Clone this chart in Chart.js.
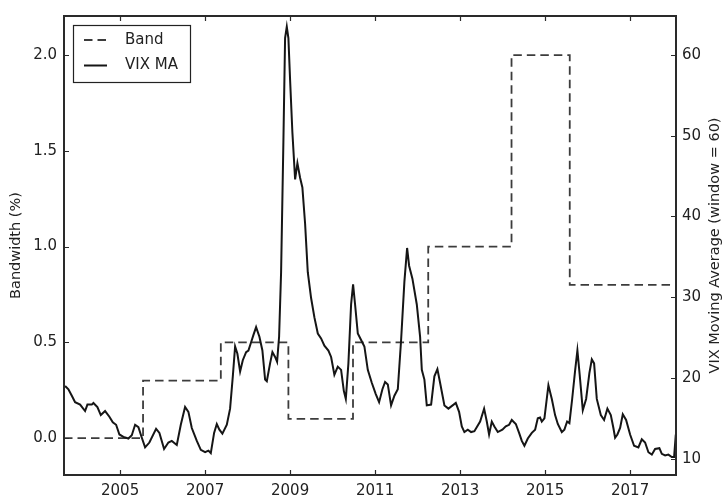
<!DOCTYPE html>
<html>
<head>
<meta charset="utf-8">
<title>Bandwidth vs VIX moving average</title>
<script src="https://cdn.jsdelivr.net/npm/chart.js@4.4.1/dist/chart.umd.min.js"></script>
<style>
  html, body { margin: 0; padding: 0; background: #fff; }
  canvas { display: block; }
</style>
</head>
<body>
<canvas id="chart" width="725" height="502"></canvas>
<script>
// Band level (left axis, %) – each value holds until the next change date
const bandYears  = [2003.68, 2005.54, 2007.37, 2008.96, 2010.48, 2012.25, 2014.21, 2015.58, 2018.09];
const bandValues = [0.0, 0.3, 0.5, 0.1, 0.5, 1.0, 2.0, 0.8, 0.8];

// VIX 60-day moving average (right axis)
const vixYears = [
  2003.706, 2003.784, 2003.864, 2003.941, 2004.059, 2004.176, 2004.231, 2004.334, 2004.372, 2004.466,
  2004.546, 2004.647, 2004.748, 2004.828, 2004.906, 2004.984, 2005.078, 2005.195, 2005.275, 2005.353,
  2005.431, 2005.511, 2005.588, 2005.689, 2005.847, 2005.925, 2006.035, 2006.136, 2006.216, 2006.334,
  2006.428, 2006.529, 2006.607, 2006.687, 2006.805, 2006.899, 2007.000, 2007.078, 2007.134, 2007.212,
  2007.275, 2007.336, 2007.407, 2007.511, 2007.588, 2007.652, 2007.706, 2007.760, 2007.824, 2007.887,
  2007.965, 2008.019, 2008.075, 2008.136, 2008.200, 2008.278, 2008.348, 2008.412, 2008.452, 2008.529,
  2008.584, 2008.647, 2008.694, 2008.741, 2008.788, 2008.842, 2008.882, 2008.922, 2008.960, 2009.000,
  2009.054, 2009.118, 2009.172, 2009.235, 2009.289, 2009.353, 2009.416, 2009.494, 2009.572, 2009.652,
  2009.729, 2009.807, 2009.901, 2009.965, 2010.042, 2010.122, 2010.200, 2010.264, 2010.311, 2010.372,
  2010.435, 2010.482, 2010.529, 2010.593, 2010.671, 2010.748, 2010.828, 2010.922, 2011.016, 2011.094,
  2011.172, 2011.235, 2011.299, 2011.376, 2011.454, 2011.534, 2011.612, 2011.689, 2011.753, 2011.800,
  2011.878, 2011.981, 2012.059, 2012.099, 2012.160, 2012.216, 2012.318, 2012.395, 2012.466, 2012.529,
  2012.631, 2012.725, 2012.899, 2012.976, 2013.040, 2013.101, 2013.181, 2013.259, 2013.336, 2013.471,
  2013.565, 2013.628, 2013.682, 2013.746, 2013.807, 2013.887, 2013.995, 2014.075, 2014.153, 2014.216,
  2014.311, 2014.388, 2014.452, 2014.513, 2014.593, 2014.687, 2014.765, 2014.828, 2014.882, 2014.922,
  2014.984, 2015.078, 2015.158, 2015.235, 2015.299, 2015.393, 2015.454, 2015.518, 2015.572, 2015.635,
  2015.706, 2015.760, 2015.812, 2015.887, 2015.965, 2016.042, 2016.099, 2016.153, 2016.216, 2016.311,
  2016.388, 2016.466, 2016.546, 2016.607, 2016.647, 2016.701, 2016.765, 2016.828, 2016.906, 2017.000,
  2017.094, 2017.195, 2017.275, 2017.353, 2017.431, 2017.511, 2017.588, 2017.689, 2017.746, 2017.824,
  2017.901, 2017.981, 2018.035, 2018.075
];
const vixValues = [
  19.0, 18.6, 17.8, 17.0, 16.7, 15.9, 16.7, 16.7, 16.9, 16.4,
  15.4, 15.9, 15.2, 14.5, 14.2, 13.0, 12.7, 12.5, 12.9, 14.2,
  13.9, 12.6, 11.4, 12.0, 13.7, 13.2, 11.2, 12.0, 12.2, 11.7,
  14.2, 16.4, 15.8, 13.8, 12.2, 11.1, 10.8, 11.0, 10.7, 13.2,
  14.3, 13.6, 13.1, 14.2, 16.2, 20.2, 23.9, 23.0, 20.8, 22.2,
  23.2, 23.4, 24.3, 25.3, 26.3, 25.1, 23.4, 19.8, 19.6, 21.8,
  23.2, 22.6, 22.0, 25.1, 33.1, 49.2, 62.1, 63.5, 62.1, 56.9,
  50.4, 44.6, 46.6, 44.8, 43.6, 39.1, 33.1, 29.9, 27.5, 25.5,
  24.9, 24.0, 23.4, 22.6, 20.4, 21.4, 21.0, 18.4, 17.4, 21.8,
  29.1, 31.6, 29.1, 25.5, 24.7, 23.9, 21.0, 19.4, 18.0, 17.0,
  18.6, 19.5, 19.2, 16.6, 17.8, 18.6, 24.7, 31.9, 36.1, 33.9,
  32.3, 29.1, 25.1, 21.0, 19.8, 16.6, 16.7, 20.2, 21.1, 19.4,
  16.6, 16.2, 16.9, 15.8, 14.0, 13.3, 13.6, 13.3, 13.4, 14.6,
  16.2, 14.6, 13.0, 14.6, 14.0, 13.3, 13.6, 14.0, 14.2, 14.8,
  14.3, 13.2, 12.2, 11.6, 12.5, 13.2, 13.6, 15.0, 15.1, 14.6,
  15.0, 19.1, 17.4, 15.4, 14.3, 13.3, 13.6, 14.6, 14.4, 17.3,
  20.9, 23.4, 20.5, 16.0, 17.4, 20.6, 22.3, 21.8, 17.4, 15.4,
  14.8, 16.2, 15.4, 13.8, 12.6, 13.0, 13.8, 15.5, 14.8, 13.0,
  11.6, 11.4, 12.4, 12.0, 10.8, 10.5, 11.2, 11.3, 10.6, 10.4,
  10.5, 10.2, 10.2, 13.0
];

const xTickYears = [2005, 2007, 2009, 2011, 2013, 2015, 2017];
const leftTicks  = [0.0, 0.5, 1.0, 1.5, 2.0];
const rightTicks = [10, 20, 30, 40, 50, 60];

const INK = '#222';
Chart.defaults.font.family = "'DejaVu Sans', sans-serif";
Chart.defaults.font.size = 15;
Chart.defaults.color = INK;

// box around the plot, inward tick marks, legend and right-hand axis label
const framePlugin = {
  id: 'frame',
  afterDatasetsDraw(chart) {
    const { ctx, chartArea: a, scales } = chart;
    const len = 5;
    ctx.save();
    ctx.strokeStyle = '#2a2a2a';
    ctx.lineWidth = 1.2;
    ctx.beginPath();
    scales.x.ticks.forEach(t => {
      const px = Math.round(scales.x.getPixelForValue(t.value)) + 0.5;
      ctx.moveTo(px, a.bottom); ctx.lineTo(px, a.bottom - len);
      ctx.moveTo(px, a.top); ctx.lineTo(px, a.top + len);
    });
    scales.y.ticks.forEach(t => {
      const py = Math.round(scales.y.getPixelForValue(t.value)) + 0.5;
      ctx.moveTo(a.left, py); ctx.lineTo(a.left + len, py);
    });
    scales.y2.ticks.forEach(t => {
      const py = Math.round(scales.y2.getPixelForValue(t.value)) + 0.5;
      ctx.moveTo(a.right, py); ctx.lineTo(a.right - len, py);
    });
    ctx.stroke();

    ctx.lineWidth = 2;
    ctx.strokeRect(a.left, a.top, a.right - a.left, a.bottom - a.top);

    // legend
    const lx = a.left + 9, ly = a.top + 9, lw = 117, lh = 57;
    ctx.fillStyle = '#fff';
    ctx.fillRect(lx, ly, lw, lh);
    ctx.lineWidth = 1.2;
    ctx.strokeStyle = '#222';
    ctx.strokeRect(lx + 0.5, ly + 0.5, lw, lh);
    const order = [1, 0];
    order.forEach((di, row) => {
      const ds = chart.data.datasets[di];
      const cy = ly + 15 + row * 25.5;
      ctx.save();
      ctx.strokeStyle = ds.borderColor;
      ctx.lineWidth = ds.borderWidth;
      ctx.setLineDash(ds.borderDash || []);
      ctx.beginPath();
      ctx.moveTo(lx + 11, cy);
      ctx.lineTo(lx + 34, cy);
      ctx.stroke();
      ctx.restore();
      ctx.fillStyle = INK;
      ctx.font = "15px 'DejaVu Sans', sans-serif";
      ctx.textBaseline = 'middle';
      ctx.textAlign = 'left';
      ctx.fillText(ds.label, lx + 52, cy);
    });

    // right axis label reads bottom-to-top
    ctx.save();
    ctx.translate(715, (a.top + a.bottom) / 2);
    ctx.rotate(-Math.PI / 2);
    ctx.fillStyle = INK;
    ctx.font = "14.5px 'DejaVu Sans', sans-serif";
    ctx.textAlign = 'center';
    ctx.textBaseline = 'middle';
    ctx.fillText('VIX Moving Average (window = 60)', 0, 0);
    ctx.restore();

    ctx.restore();
  }
};

new Chart(document.getElementById('chart'), {
  type: 'line',
  data: {
    datasets: [
      {
        label: 'VIX MA',
        data: vixYears.map((t, i) => ({ x: t, y: vixValues[i] })),
        yAxisID: 'y2',
        borderColor: '#151515',
        borderWidth: 2,
        pointRadius: 0,
        tension: 0,
        order: 0
      },
      {
        label: 'Band',
        data: bandYears.map((t, i) => ({ x: t, y: bandValues[i] })),
        yAxisID: 'y',
        borderColor: '#3c3c3c',
        borderWidth: 1.8,
        borderDash: [8.5, 5],
        stepped: true,
        pointRadius: 0,
        order: 1
      }
    ]
  },
  options: {
    responsive: false,
    animation: false,
    layout: { padding: { top: 4, right: 0, left: 0, bottom: 0 } },
    plugins: {
      legend: { display: false },
      tooltip: { enabled: false }
    },
    scales: {
      x: {
        type: 'linear',
        min: 2003.68,
        max: 2018.08,
        grid: { display: false, drawTicks: false },
        border: { display: false },
        afterFit: s => { s.height = 27; },
        afterBuildTicks: s => { s.ticks = xTickYears.map(v => ({ value: v })); },
        ticks: {
          autoSkip: false,
          maxRotation: 0,
          padding: 7,
          callback: v => String(v)
        }
      },
      y: {
        type: 'linear',
        position: 'left',
        min: -0.193,
        max: 2.204,
        grid: { display: false, drawTicks: false },
        border: { display: false },
        afterFit: s => { s.width = 64; },
        afterBuildTicks: s => { s.ticks = leftTicks.map(v => ({ value: v })); },
        ticks: { padding: 7, callback: v => v.toFixed(1) },
        title: {
          display: true,
          text: 'Bandwidth (%)',
          font: { size: 14.5 },
          padding: { top: 8, bottom: 0 }
        }
      },
      y2: {
        type: 'linear',
        position: 'right',
        min: 7.98,
        max: 64.83,
        grid: { display: false, drawTicks: false },
        border: { display: false },
        afterFit: s => { s.width = 49; },
        afterBuildTicks: s => { s.ticks = rightTicks.map(v => ({ value: v })); },
        ticks: { padding: 6, callback: v => String(v) }
      }
    }
  },
  plugins: [framePlugin]
});
</script>
</body>
</html>
